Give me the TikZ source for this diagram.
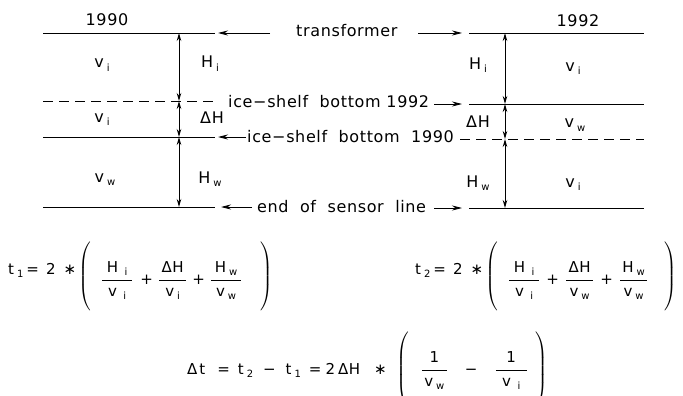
\documentclass[tikz,border=0pt]{standalone}
\usepackage{amsmath}
\usepackage{fontspec}
\setmainfont[LetterSpace=4]{DejaVu Sans}
\usetikzlibrary{arrows.meta}
\newcommand\sbs[2]{\mbox{#1\hspace{3pt}\raisebox{-3pt}{\fontsize{10}{12}\selectfont #2}}}
\newcommand\fr[3]{\dfrac{\makebox[#1]{\fontsize{15}{18}\selectfont #2}\rule[-6pt]{0pt}{0pt}}{\rule{0pt}{14pt}\makebox[#1]{\fontsize{15}{18}\selectfont #3}}}
\newcommand\lpar[2]{\raisebox{#2}{$\left(\vrule height #1 depth #1 width 0pt\right.$}}
\newcommand\rpar[2]{\raisebox{#2}{$\left.\vrule height #1 depth #1 width 0pt\right)$}}
\newcommand\op[1]{\mbox{#1}}
\tikzset{
  lvl/.style={line width=0.8pt},
  lvld/.style={line width=0.8pt, dash pattern=on 10pt off 6pt},
  dim/.style={line width=1pt, {Stealth[length=8pt,width=4.5pt]}-{Stealth[length=8pt,width=4.5pt]}},
  ptr/.style={line width=0.9pt, -{Stealth[length=10pt,width=5pt]}},
  lab/.style={font=\fontsize{16}{18}\selectfont, inner sep=0pt, anchor=base},
  fml/.style={font=\fontsize{15}{18}\selectfont, inner sep=0pt, anchor=base west},
}
\begin{document}
\begin{tikzpicture}[x=1pt,y=-1pt]
\useasboundingbox (0,0) rectangle (683,396);
% left levels (1990)
\coordinate (a1) at (43,33);  \coordinate (a2) at (215,33);
\coordinate (b1) at (43,101); \coordinate (b2) at (215,101);
\coordinate (c1) at (43,137); \coordinate (c2) at (215,137);
\coordinate (d1) at (43,207); \coordinate (d2) at (215,207);
\draw[lvl] (a1) -- (a2);
\draw[lvld] (b1) -- (b2);
\draw[lvl] (c1) -- (c2);
\draw[lvl] (d1) -- (d2);
% right levels (1992)
\coordinate (e1) at (469,33);  \coordinate (e2) at (644,33);
\coordinate (f1) at (469,104); \coordinate (f2) at (644,104);
\coordinate (g1) at (460,139); \coordinate (g2) at (644,139);
\coordinate (h1) at (469,208); \coordinate (h2) at (644,208);
\draw[lvl] (e1) -- (e2);
\draw[lvl] (f1) -- (f2);
\draw[lvld] (g1) -- (g2);
\draw[lvl] (h1) -- (h2);
% vertical dimension arrows
\coordinate (va) at (179,33); \coordinate (vb) at (179,101);
\coordinate (vc) at (179,137); \coordinate (vd) at (179,207);
\draw[dim] (va) -- (vb); \draw[dim] (vb) -- (vc); \draw[dim] (vc) -- (vd);
\coordinate (wa) at (505,33); \coordinate (wb) at (505,104);
\coordinate (wc) at (505,139); \coordinate (wd) at (505,208);
\draw[dim] (wa) -- (wb); \draw[dim] (wb) -- (wc); \draw[dim] (wc) -- (wd);
% year labels
\node[lab] (y90) at (107,26) {1990};
\node[lab] (y92) at (578,27) {1992};
% left labels
\node[lab] (lvi1) at (102,68) {\sbs{v}{i}};
\node[lab] (lHi) at (210,68) {\sbs{H}{i}};
\node[lab] (lvi2) at (102,122) {\sbs{v}{i}};
\node[lab] (ldH) at (212,123) {ΔH};
\node[lab] (lvw) at (105,182) {\sbs{v}{w}};
\node[lab] (lHw) at (210,183) {\sbs{H}{w}};
% right labels
\node[lab] (rHi) at (478,70) {\sbs{H}{i}};
\node[lab] (rvi1) at (573,71) {\sbs{v}{i}};
\node[lab] (rdH) at (478,127) {ΔH};
\node[lab] (rvw) at (575,128) {\sbs{v}{w}};
\node[lab] (rHw) at (478,187) {\sbs{H}{w}};
\node[lab] (rvi2) at (573,187) {\sbs{v}{i}};
% middle texts and pointers
\node[lab, anchor=base west] (tr) at (296,37) {transformer};
\coordinate (trS1) at (270,33); \coordinate (trT1) at (218,33);
\coordinate (trS2) at (418,33); \coordinate (trT2) at (462,33);
\draw[ptr] (trS1) -- (trT1);
\draw[ptr] (trS2) -- (trT2);
\node[lab, anchor=base west] (ib92) at (228,107) {ice−shelf\ \ bottom 1992};
\coordinate (ibS2) at (434,104); \coordinate (ibT2) at (462,104);
\draw[ptr] (ibS2) -- (ibT2);
\node[lab, anchor=base west] (ib90) at (247,142) {ice−shelf\ \ bottom\ \ 1990};
\coordinate (ibS1) at (246,137); \coordinate (ibT1) at (218,137);
\draw[ptr] (ibS1) -- (ibT1);
\node[lab, anchor=base west] (eos) at (257,212) {end\ \ of\ \ sensor\ \ line};
\coordinate (eoS1) at (252,207); \coordinate (eoT1) at (221,207);
\coordinate (eoS2) at (434,208); \coordinate (eoT2) at (462,208);
\draw[ptr] (eoS1) -- (eoT1);
\draw[ptr] (eoS2) -- (eoT2);
% formulas
\node[fml] (t1) at (8,284) {$\raisebox{10pt}{\sbs{t}{1}\hspace{3pt}=\hspace{7pt}2\hspace{8pt}∗}\hspace{2pt}\lpar{30pt}{4pt}\hspace{9pt}\fr{30pt}{\sbs{H}{\ i}}{\sbs{v}{\ i}}\hspace{7pt}\op{+}\hspace{5pt}\fr{27pt}{ΔH}{\sbs{v}{i}}\hspace{5pt}\op{+}\hspace{5pt}\fr{30pt}{\sbs{H}{w}}{\sbs{v}{w}}\hspace{17pt}\rpar{30pt}{4pt}$};
\node[fml] (t2) at (415,284) {$\raisebox{10pt}{\sbs{t}{2}\hspace{3pt}=\hspace{7pt}2\hspace{8pt}∗}\hspace{2pt}\lpar{30pt}{4pt}\hspace{9pt}\fr{30pt}{\sbs{H}{\ i}}{\sbs{v}{\ i}}\hspace{6pt}\op{+}\hspace{6pt}\fr{27pt}{ΔH}{\sbs{v}{w}}\hspace{6pt}\op{+}\hspace{6pt}\fr{27pt}{\sbs{H}{w}}{\sbs{v}{w}}\hspace{15pt}\rpar{30pt}{4pt}$};
\node[fml] (dt) at (187,374) {$\mbox{Δ\hspace{2pt}t\hspace{12pt}=\hspace{8pt}\sbs{t}{2}\hspace{10pt}−\hspace{10pt}\sbs{t}{1}\hspace{8pt}=\hspace{4pt}2\hspace{3pt}ΔH\hspace{14pt}∗}\hspace{10pt}\lpar{34pt}{0pt}\hspace{10pt}\fr{25pt}{1}{\sbs{v}{w}}\hspace{17pt}\op{−}\hspace{17pt}\fr{31pt}{1}{\sbs{v}{\ i}}\hspace{6pt}\rpar{34pt}{0pt}$};
\end{tikzpicture}
\end{document}
